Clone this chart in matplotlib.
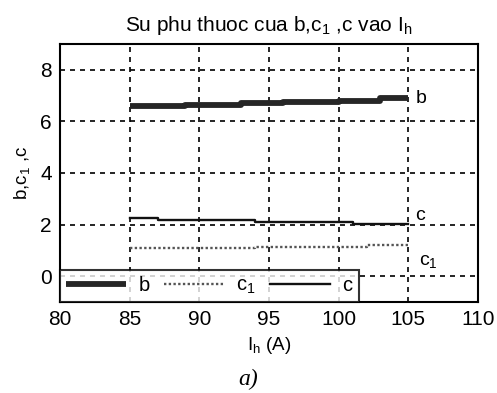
import matplotlib
matplotlib.use('Agg')
import matplotlib.pyplot as plt

plt.rcParams['font.family'] = ['Liberation Sans', 'DejaVu Sans']
plt.rcParams['mathtext.default'] = 'regular'

# step breakpoints (current I_h in A)
ih_b = [85, 89, 93, 96, 100, 103, 105]
b_vals = [6.6, 6.65, 6.7, 6.75, 6.8, 6.9, 6.9]
ih_c1 = [85, 94, 102, 105]
c1_vals = [1.08, 1.13, 1.2, 1.2]
ih_c = [85, 87, 94, 101, 105]
c_vals = [2.25, 2.18, 2.1, 2.02, 2.02]

xticks = [80, 85, 90, 95, 100, 105, 110]
yticks = [0, 2, 4, 6, 8]

fig = plt.figure(figsize=(4.97, 3.93), dpi=100)
ax = fig.add_axes([0.1207, 0.2316, 0.8411, 0.6565])

lb, = ax.plot(ih_b, b_vals, color='#262626', lw=4.2, drawstyle='steps-post',
              solid_capstyle='butt', label='b')
lc1, = ax.plot(ih_c1, c1_vals, color='#555555', lw=1.7, ls=(0, (1, 1)),
               drawstyle='steps-post', label='c$_1$')
lc, = ax.plot(ih_c, c_vals, color='#111111', lw=1.7, drawstyle='steps-post',
              label='c')

ax.text(105.5, b_vals[-1], 'b', fontsize=14, va='center')
ax.text(105.5, c_vals[-1] + 0.35, 'c', fontsize=14, va='center')
ax.text(105.8, 0.55, 'c$_1$', fontsize=14, va='center')

ax.set_xlim(80, 110)
ax.set_ylim(-1, 9)
ax.set_xticks(xticks)
ax.set_yticks(yticks)
ax.tick_params(labelsize=15, length=0, pad=6)
ax.grid(True, color='black', ls=(0, (3, 3)), lw=1.2)
for s in ax.spines.values():
    s.set_linewidth(1.5)

ax.set_title('Su phu thuoc cua b,c$_1$ ,c vao I$_h$', fontsize=15, pad=9)
ax.set_xlabel('I$_h$ (A)', fontsize=13.5, labelpad=4)
ax.set_ylabel('b,c$_1$ ,c', fontsize=13.5, labelpad=6)

leg = ax.legend(loc='lower left', ncol=3, fontsize=14.5, borderaxespad=0,
                frameon=True, fancybox=False, handlelength=3.0,
                columnspacing=0.7, handletextpad=0.6, borderpad=0.3)
leg.get_frame().set_edgecolor('black')
leg.get_frame().set_linewidth(1.5)

fig.text(0.5, 0.02, 'a)', fontsize=17, style='italic', ha='center',
         family='Liberation Serif')

fig.savefig('out.png', dpi=100)
